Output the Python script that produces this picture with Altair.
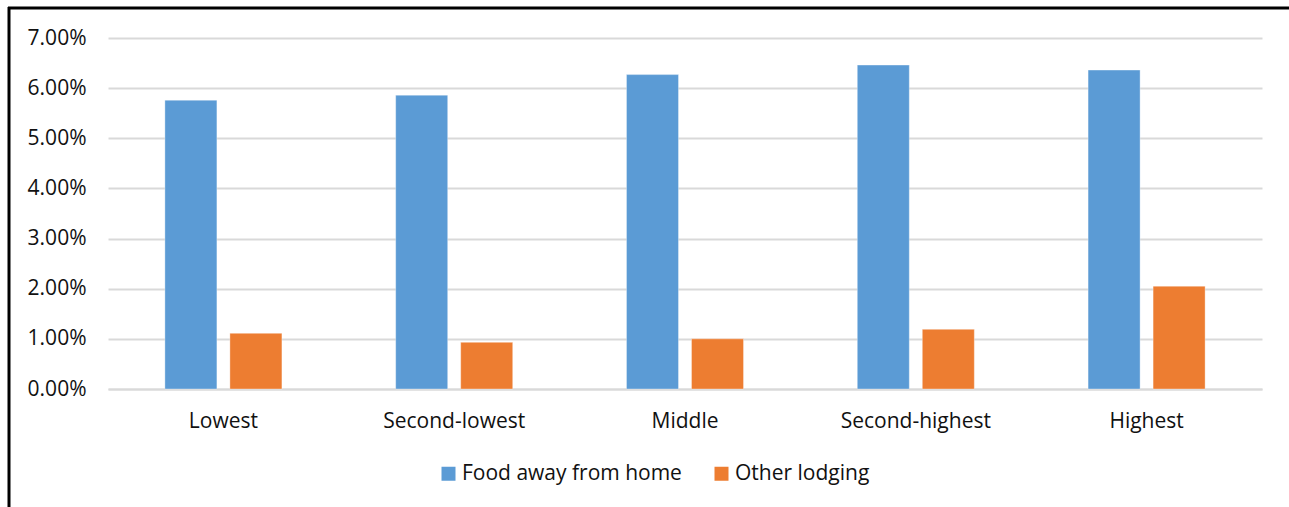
import altair as alt
import pandas as pd

# Income quintiles and spending shares by category
quintiles = ["Lowest", "Second-lowest", "Middle", "Second-highest", "Highest"]
food_away = [0.0576, 0.0586, 0.0627, 0.0646, 0.0636]
other_lodging = [0.0111, 0.0093, 0.0100, 0.0119, 0.0205]
series_names = ["Food away from home", "Other lodging"]
series_colors = ["#5B9BD5", "#ED7D31"]
y_ticks = [0.0, 0.01, 0.02, 0.03, 0.04, 0.05, 0.06, 0.07]

rows = []
for q, f, o in zip(quintiles, food_away, other_lodging):
    rows.append({"quintile": q, "series": series_names[0], "share": f})
    rows.append({"quintile": q, "series": series_names[1], "share": o})
df = pd.DataFrame(rows)

FONT = "Open Sans"
FS = 21
W, H = 1154, 351

bars = alt.Chart(df).mark_bar(strokeWidth=1, strokeOpacity=0.35, stroke="white").encode(
    x=alt.X(
        "quintile:N",
        sort=quintiles,
        scale=alt.Scale(paddingInner=0, paddingOuter=0),
        axis=alt.Axis(
            title=None, labelAngle=0, ticks=False, labelPadding=21,
            domainColor="#D9D9D9", domainWidth=2,
            labelFont=FONT, labelFontSize=FS, labelColor="#111111",
        ),
    ),
    xOffset=alt.XOffset(
        "series:N", sort=series_names,
        scale=alt.Scale(paddingInner=0.2, paddingOuter=0.875),
    ),
    y=alt.Y(
        "share:Q",
        scale=alt.Scale(domain=[0, 0.07], nice=False),
        axis=alt.Axis(
            title=None, values=y_ticks, format=".2%", domain=False, ticks=False,
            labelPadding=22, gridColor="#D9D9D9", gridWidth=2,
            labelFont=FONT, labelFontSize=FS, labelColor="#111111",
        ),
    ),
    color=alt.Color(
        "series:N", sort=series_names,
        scale=alt.Scale(domain=series_names, range=series_colors),
        legend=alt.Legend(
            title=None, orient="none", direction="horizontal",
            legendX=330, legendY=425, symbolType="square", symbolSize=196,
            symbolStrokeWidth=0, labelFont=FONT, labelFontSize=FS,
            labelColor="#111111", columnPadding=29, labelOffset=3,
            labelLimit=0,
        ),
    ),
)

# Black frame around the chart (top and left edges)
frame_top = alt.Chart().mark_rule(color="black", strokeWidth=3).encode(
    x=alt.value(-100), x2=alt.value(1181), y=alt.value(-30)
)
frame_left = alt.Chart().mark_rule(color="black", strokeWidth=3).encode(
    x=alt.value(-99), y=alt.value(-31), y2=alt.value(480)
)

chart = alt.layer(bars, frame_top, frame_left).properties(
    width=W, height=H,
    autosize=alt.AutoSizeParams(type="none"),
    padding={"left": 108, "top": 38, "right": 27, "bottom": 118},
    background="white",
).configure_view(stroke=None)

chart.save("out.html", embed_options={"renderer": "svg", "actions": False})
